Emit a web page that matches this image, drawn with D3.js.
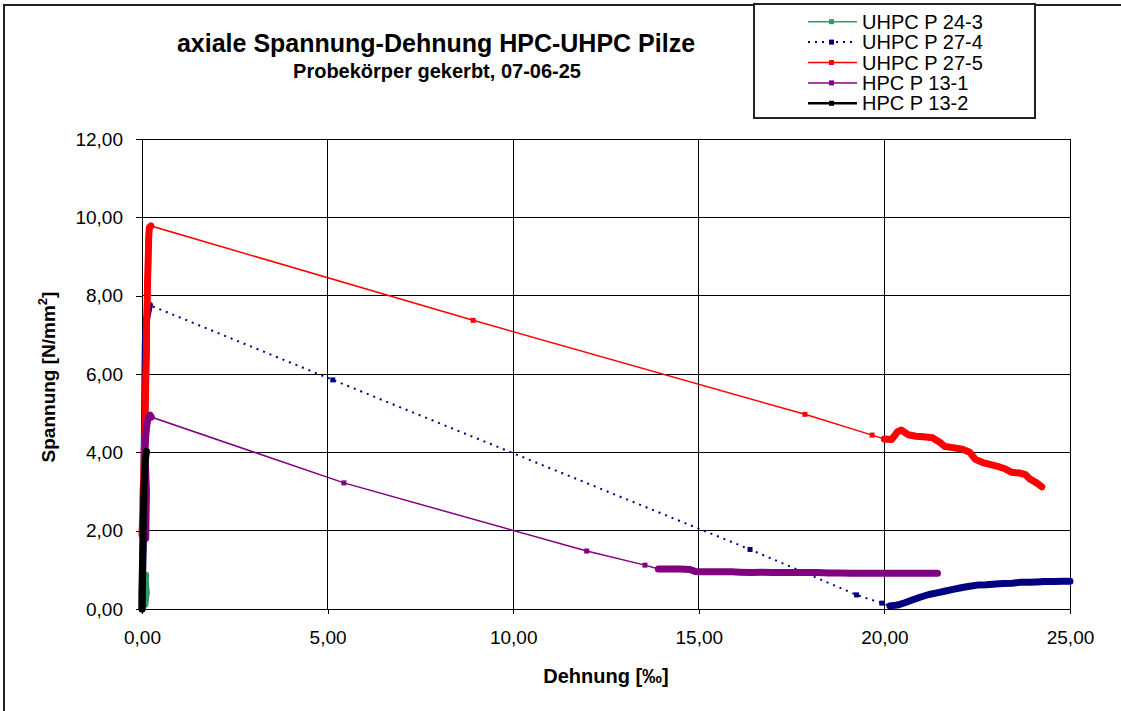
<!DOCTYPE html>
<html>
<head>
<meta charset="utf-8">
<script src="https://cdn.jsdelivr.net/npm/d3@7"></script>
<style>
  body { margin: 0; background: #fff; }
  svg { display: block; font-family: "Liberation Sans", Arial, sans-serif; }
</style>
</head>
<body>
<div id="chart"></div>
<script>
// --- data (strain [permille], stress [N/mm2]) ---
var seriesNames = ["UHPC P 24-3", "UHPC P 27-4", "UHPC P 27-5", "HPC P 13-1", "HPC P 13-2"];

var p243Ramp = [[0.08,0.12],[0.1,0.3],[0.12,0.42],[0.1,0.58],[0.09,0.75],[0.1,0.86]];

var p274Ramp = [[0.0,0.0],[0.02,1.0],[0.04,2.0],[0.05,3.0],[0.06,4.0],[0.07,5.0],[0.08,6.0],[0.09,6.8],[0.12,7.4],[0.2,7.76]];
var p274Link = [[5.14,5.85],[16.38,1.52],[19.25,0.36],[19.93,0.15]];
var p274Tail = [[20.15,0.08],[20.35,0.1],[20.55,0.16],[20.75,0.23],[20.96,0.3],[21.2,0.37],[21.45,0.42],[21.65,0.46],[21.85,0.5],
  [22.1,0.55],[22.3,0.58],[22.5,0.61],[22.75,0.62],[23.0,0.64],[23.2,0.65],[23.45,0.66],[23.65,0.68],[23.9,0.68],
  [24.1,0.69],[24.3,0.7],[24.55,0.7],[24.8,0.71],[25.0,0.71]];

var p275Ramp = [[0.0,1.9],[0.02,2.4],[0.03,3.0],[0.05,3.4],[0.06,4.0],[0.08,4.6],[0.09,5.2],[0.1,5.8],[0.12,6.5],[0.12,7.2],
  [0.14,7.8],[0.15,8.4],[0.17,9.0],[0.18,9.5],[0.2,9.75],[0.24,9.78]];
var p275Link = [[8.92,7.37],[17.86,4.97],[19.67,4.44]];
var p275Tail = [[20.0,4.34],[20.2,4.33],[20.35,4.52],[20.45,4.57],[20.64,4.45],[20.85,4.41],[21.05,4.4],[21.3,4.37],[21.5,4.25],
  [21.63,4.15],[21.85,4.12],[22.1,4.08],[22.3,4.0],[22.45,3.82],[22.65,3.74],[22.84,3.69],[23.05,3.64],[23.25,3.58],
  [23.43,3.49],[23.65,3.47],[23.8,3.43],[23.92,3.32],[24.1,3.22],[24.24,3.12]];

var p131Ramp = [[0.1,1.8],[0.11,2.4],[0.12,3.0],[0.1,3.5],[0.08,4.0],[0.1,4.4],[0.13,4.7],[0.17,4.9],[0.22,4.95],[0.25,4.9]];
var p131Link = [[5.44,3.22],[11.98,1.48],[13.55,1.12]];
var p131Tail = [[13.91,1.02],[14.1,1.02],[14.3,1.02],[14.5,1.02],[14.76,1.01],[14.9,0.96],[15.1,0.95],[15.35,0.95],[15.6,0.95],
  [15.9,0.95],[16.1,0.94],[16.4,0.93],[16.7,0.94],[17.0,0.93],[17.3,0.93],[17.6,0.93],[17.9,0.93],[18.2,0.93],[18.5,0.92],
  [18.8,0.92],[19.1,0.91],[19.4,0.91],[19.7,0.91],[20.0,0.91],[20.3,0.91],[20.6,0.91],[20.9,0.91],[21.2,0.91],[21.43,0.91]];

var p132Ramp = [[0.0,0.0],[0.0,0.5],[0.01,1.0],[0.02,1.5],[0.03,2.0],[0.04,2.5],[0.05,3.0],[0.07,3.4],[0.09,3.8],[0.12,4.02]];

var xTicks = [0, 5, 10, 15, 20, 25];
var yTicks = [0, 2, 4, 6, 8, 10, 12];

var series = [
  {name: seriesNames[0], color: "#339966", width: 1.5, dash: null, ramp: p243Ramp, link: [], tail: []},
  {name: seriesNames[1], color: "#000080", width: 2, dash: "2,5", ramp: p274Ramp, link: p274Link, tail: p274Tail},
  {name: seriesNames[2], color: "#ff0000", width: 1.5, dash: null, ramp: p275Ramp, link: p275Link, tail: p275Tail},
  {name: seriesNames[3], color: "#800080", width: 1.5, dash: null, ramp: p131Ramp, link: p131Link, tail: p131Tail},
  {name: seriesNames[4], color: "#000000", width: 2.5, dash: null, ramp: p132Ramp, link: [], tail: []}
];

var W = 1121, H = 711;
var svg = d3.select("#chart").append("svg").attr("width", W).attr("height", H);

svg.append("rect")
  .attr("x", 4).attr("y", 5).attr("width", W + 20).attr("height", H + 20)
  .attr("fill", "#fff").attr("stroke", "#222").attr("stroke-width", 2);

var x = d3.scaleLinear().domain([0, 25]).range([142, 1070]);
var y = d3.scaleLinear().domain([0, 12]).range([609, 139]);

var de = d3.formatLocale({decimal: ",", thousands: ".", grouping: [3], currency: ["", " €"]});
var fmt = de.format(".2f");

// grid
svg.append("g").selectAll("line").data(yTicks.slice(1)).enter().append("line")
  .attr("x1", x(0)).attr("x2", x(25))
  .attr("y1", function(d){ return y(d); }).attr("y2", function(d){ return y(d); })
  .attr("stroke", "#000").attr("stroke-width", 1).attr("shape-rendering", "crispEdges");
svg.append("g").selectAll("line").data(xTicks.slice(1)).enter().append("line")
  .attr("y1", y(0)).attr("y2", y(12))
  .attr("x1", function(d){ return x(d); }).attr("x2", function(d){ return x(d); })
  .attr("stroke", "#000").attr("stroke-width", 1).attr("shape-rendering", "crispEdges");

// axes
var yAxis = d3.axisLeft(y).tickValues(yTicks).tickFormat(fmt).tickSize(6).tickPadding(13);
var xAxis = d3.axisBottom(x).tickValues(xTicks).tickFormat(fmt).tickSize(5).tickPadding(17);

var gy = svg.append("g").attr("transform", "translate(" + x(0) + ",0)").call(yAxis);
var gx = svg.append("g").attr("transform", "translate(0," + y(0) + ")").call(xAxis);
[gx, gy].forEach(function(g){
  g.selectAll("text").attr("font-size", 19).attr("fill", "#000").attr("font-family", "Liberation Sans, Arial, sans-serif");
  g.selectAll("line, path").attr("stroke", "#000").attr("shape-rendering", "crispEdges");
});

// series
var line = d3.line().x(function(d){ return x(d[0]); }).y(function(d){ return y(d[1]); });
var plot = svg.append("g");

series.forEach(function(s){
  var all = s.ramp.concat(s.link, s.tail);
  plot.append("path")
    .attr("d", line(all))
    .attr("fill", "none")
    .attr("stroke", s.color)
    .attr("stroke-width", s.width)
    .attr("stroke-dasharray", s.dash);
  // dense measured stretches: overlapping markers look like a thick band
  [s.ramp, s.tail].forEach(function(pts){
    if (pts.length < 2) return;
    plot.append("path")
      .attr("d", line(pts))
      .attr("fill", "none")
      .attr("stroke", s.color)
      .attr("stroke-width", 7)
      .attr("stroke-linejoin", "round")
      .attr("stroke-linecap", "round");
  });
  plot.selectAll(null).data(s.link).enter().append("rect")
    .attr("x", function(d){ return x(d[0]) - 2.5; })
    .attr("y", function(d){ return y(d[1]) - 2.5; })
    .attr("width", 5).attr("height", 5)
    .attr("fill", s.color);
});

// titles
svg.append("text").attr("x", 436).attr("y", 52).attr("text-anchor", "middle")
  .attr("font-size", 25).attr("font-weight", "bold").text("axiale Spannung-Dehnung HPC-UHPC Pilze");
svg.append("text").attr("x", 437).attr("y", 78).attr("text-anchor", "middle")
  .attr("font-size", 20).attr("font-weight", "bold").text("Probekörper gekerbt, 07-06-25");

svg.append("text").attr("x", 606).attr("y", 683).attr("text-anchor", "middle")
  .attr("font-size", 20).attr("font-weight", "bold").text("Dehnung [‰]");

var yt = svg.append("text").attr("transform", "translate(55,377) rotate(-90)")
  .attr("text-anchor", "middle").attr("font-size", 19).attr("font-weight", "bold");
yt.append("tspan").text("Spannung [N/mm");
yt.append("tspan").attr("dy", -8).attr("font-size", 13).text("2");
yt.append("tspan").attr("dy", 8).text("]");

// legend
var lg = svg.append("g");
lg.append("rect").attr("x", 754).attr("y", 4).attr("width", 281).attr("height", 114)
  .attr("fill", "#fff").attr("stroke", "#222").attr("stroke-width", 2);
var rows = lg.selectAll("g.row").data(series).enter().append("g")
  .attr("class", "row")
  .attr("transform", function(d, i){ return "translate(0," + (21.7 + i * 20.4) + ")"; });
rows.append("line").attr("x1", 808).attr("x2", 857).attr("y1", 0).attr("y2", 0)
  .attr("stroke", function(d){ return d.color; })
  .attr("stroke-width", function(d){ return d.width; })
  .attr("stroke-dasharray", function(d){ return d.dash; });
rows.append("rect").attr("x", 829).attr("y", -2.5).attr("width", 5).attr("height", 5)
  .attr("fill", function(d){ return d.color; });
rows.append("text").attr("x", 862).attr("y", 7).attr("font-size", 20)
  .text(function(d){ return d.name; });
</script>
</body>
</html>
